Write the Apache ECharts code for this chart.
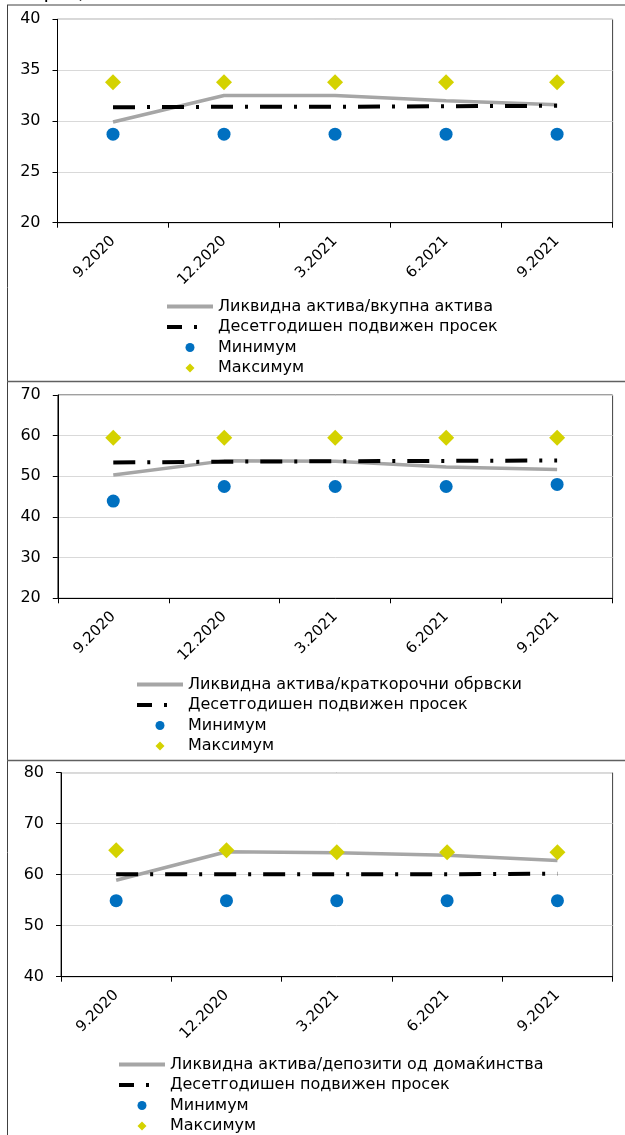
<!DOCTYPE html>
<html>
<head>
<meta charset="utf-8">
<script src="https://cdn.jsdelivr.net/npm/echarts@6/dist/echarts.min.js"></script>
<style>html,body{margin:0;padding:0;background:#fff}#c{width:625px;height:1135px}</style>
</head>
<body>
<div id="c"></div>
<script>
const categories = ['9.2020', '12.2020', '3.2021', '6.2021', '9.2021'];

const names1 = ['Ликвидна актива/вкупна актива'];
const names2 = ['Ликвидна актива/краткорочни обрвски'];
const names3 = ['Ликвидна актива/депозити од домаќинства'];
const avgName = 'Десетгодишен подвижен просек';
const minName = 'Минимум';
const maxName = 'Максимум';
const unitTitle = 'во проценти';

const ratio1 = [29.9, 32.5, 32.5, 32.0, 31.6];
const avg1 = [31.35, 31.4, 31.4, 31.45, 31.5];
const min1 = [28.7, 28.7, 28.7, 28.7, 28.7];
const max1 = [33.8, 33.8, 33.8, 33.8, 33.8];

const ratio2 = [50.3, 53.8, 53.7, 52.3, 51.7];
const avg2 = [53.4, 53.6, 53.7, 53.8, 53.9];
const min2 = [43.9, 47.5, 47.5, 47.5, 48.0];
const max2 = [59.5, 59.5, 59.5, 59.5, 59.5];

const ratio3 = [58.9, 64.5, 64.3, 63.8, 62.8];
const avg3 = [60.1, 60.1, 60.1, 60.1, 60.2];
const min3 = [54.9, 54.9, 54.9, 54.9, 54.9];
const max3 = [64.8, 64.8, 64.4, 64.4, 64.4];

const yTicks1 = {min: 20, max: 40, interval: 5};
const yTicks2 = {min: 20, max: 70, interval: 10};
const yTicks3 = {min: 40, max: 80, interval: 10};

const FONT = 'DejaVu Sans';
const FS = 16;
const GRAY = '#A6A6A6', BLUE = '#0070C0', YEL = '#D4D200';
const DASH = [22, 12, 3, 12];
const DIAMOND = 'path://M5,0 L10,5 L5,10 L0,5 Z';

const grids = [
  {left: 57.5, right: 12.4, top: 19.3, height: 203.4},
  {left: 57.8, right: 12.4, top: 395, height: 203.3},
  {left: 61, right: 12.4, top: 772.7, height: 204}
];
const legendPos = [
  {left: 165, top: 298.5, first: names1[0]},
  {left: 135, top: 676.5, first: names2[0]},
  {left: 117, top: 1056.5, first: names3[0]}
];
const yCfg = [yTicks1, yTicks2, yTicks3];
const data = [
  [ratio1, avg1, min1, max1],
  [ratio2, avg2, min2, max2],
  [ratio3, avg3, min3, max3]
];

const option = {
  animation: false,
  backgroundColor: '#fff',
  textStyle: {fontFamily: FONT},
  grid: grids.map(g => Object.assign({show: true, borderColor: '#404040', borderWidth: 1, backgroundColor: 'transparent'}, g)),
  xAxis: grids.map((g, i) => ({
    type: 'category', gridIndex: i, data: categories, boundaryGap: true,
    axisLine: {lineStyle: {color: '#000', width: 1}},
    axisTick: {show: true, length: 5, lineStyle: {color: '#000'}, alignWithLabel: false},
    axisLabel: {rotate: 45, fontSize: 15, color: '#000', fontFamily: FONT, margin: 16, interval: 0},
    splitLine: {show: false}
  })),
  yAxis: grids.map((g, i) => ({
    type: 'value', gridIndex: i, min: yCfg[i].min, max: yCfg[i].max, interval: yCfg[i].interval,
    axisLine: {show: true, lineStyle: {color: '#000', width: 1}},
    axisTick: {show: true, length: 5, lineStyle: {color: '#000'}},
    axisLabel: {fontSize: FS, color: '#000', fontFamily: FONT, margin: 17},
    splitLine: {show: true, lineStyle: {color: '#D9D9D9', width: 1}}
  })),
  legend: legendPos.map((p, i) => ({
    orient: 'vertical', left: p.left, top: p.top, padding: 0,
    itemWidth: 46, itemHeight: 9, itemGap: 4.5,
    selectedMode: false, symbolKeepAspect: true,
    textStyle: {fontSize: FS, color: '#000', fontFamily: FONT},
    data: [
      {name: p.first, lineStyle: {color: GRAY, width: 4, type: 'solid'}, itemStyle: {opacity: 0}},
      {name: avgName, lineStyle: {color: '#000', width: 4, type: [15, 12, 3, 16], cap: 'butt'}, itemStyle: {opacity: 0}},
      {name: minName, icon: 'circle', itemStyle: {color: BLUE, opacity: 1}},
      {name: maxName, icon: DIAMOND, itemStyle: {color: YEL, opacity: 1}}
    ]
  })),
  graphic: [
    {type: 'text', left: 0, top: -17, style: {text: unitTitle, fontSize: 20, fontFamily: FONT, fill: '#000'}},
    {type: 'line', shape: {x1: 7, y1: 5, x2: 625, y2: 5}, style: {stroke: '#404040', lineWidth: 1}},
    {type: 'line', shape: {x1: 7.5, y1: 5, x2: 7.5, y2: 1135}, style: {stroke: '#404040', lineWidth: 1}},
    {type: 'line', shape: {x1: 7, y1: 381.5, x2: 625, y2: 381.5}, style: {stroke: '#606060', lineWidth: 1.5}},
    {type: 'line', shape: {x1: 7, y1: 760.5, x2: 625, y2: 760.5}, style: {stroke: '#606060', lineWidth: 1.5}}
  ],
  series: []
};

data.forEach((d, i) => {
  const first = [names1[0], names2[0], names3[0]][i];
  option.series.push(
    {name: first, type: 'line', xAxisIndex: i, yAxisIndex: i, data: d[0], symbol: 'none',
     lineStyle: {color: GRAY, width: 3.5}, itemStyle: {color: GRAY}, z: 2},
    {name: avgName, type: 'line', xAxisIndex: i, yAxisIndex: i, data: d[1], symbol: 'none',
     lineStyle: {color: '#000', width: 4, type: DASH, cap: 'butt'}, itemStyle: {color: '#000'}, z: 3},
    {name: minName, type: 'scatter', xAxisIndex: i, yAxisIndex: i, data: d[2], symbol: 'circle', symbolSize: 13,
     itemStyle: {color: BLUE, opacity: 1}, z: 4},
    {name: maxName, type: 'scatter', xAxisIndex: i, yAxisIndex: i, data: d[3], symbol: 'diamond', symbolSize: [16, 16],
     itemStyle: {color: YEL, opacity: 1}, z: 4}
  );
});

const chart = echarts.init(document.getElementById('c'), null, {renderer: 'canvas'});
chart.setOption(option);
</script>
</body>
</html>
